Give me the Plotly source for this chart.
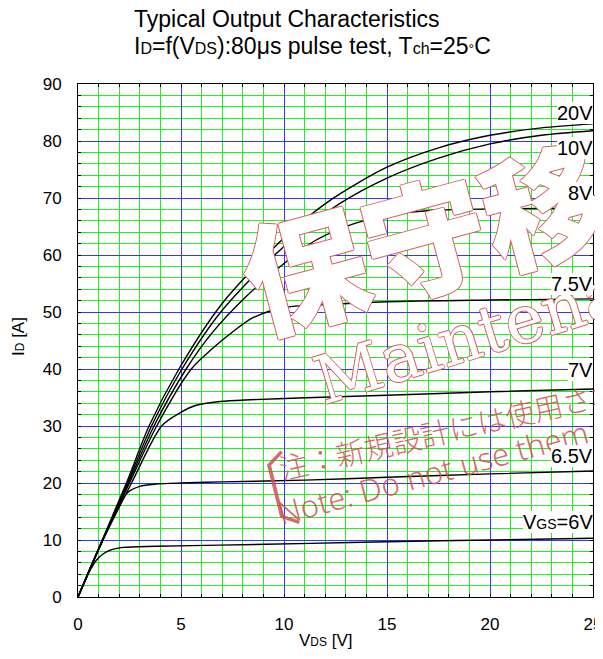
import plotly.graph_objects as go

# ---- data ----
vds_20 = [0, 1, 2.35, 3.45, 4.9, 7, 10, 12.2, 15, 17.5, 20, 22.5, 25]
id_20 = [0, 8.5, 20, 30, 40, 51.5, 63, 69.5, 75.4, 78.8, 81, 82.3, 83]

vds_10 = [0, 1, 2.4, 3.57, 5.05, 7, 10, 12.7, 15, 17.5, 20, 22.5, 25]
id_10 = [0, 8.4, 20, 30, 40, 50.3, 61.5, 69, 73.5, 77, 79.5, 81, 81.8]

vds_8 = [0, 1, 2.45, 3.69, 5.25, 6.5, 8.1, 10, 11.5, 13.4, 15, 17.2, 20, 25]
id_8 = [0, 8.4, 20, 30, 40, 46.3, 52.5, 58.5, 62.5, 65.5, 67, 67.8, 68.1, 68.2]

vds_75 = [0, 1, 2.5, 3.82, 5.5, 6.5, 7.5, 8.5, 10, 12, 15, 20, 25]
id_75 = [0, 8.4, 20, 30, 40, 43.5, 46.5, 49, 50.8, 51.3, 51.8, 52.1, 52.3]

vds_7 = [0, 1, 2.6, 4.06, 4.95, 5.7, 6.9, 8.35, 10.7, 15, 20, 25]
id_7 = [0, 8.4, 20, 30, 32.3, 33.6, 34.3, 34.6, 34.9, 35.4, 36, 36.5]

vds_65 = [0, 1, 1.5, 2, 2.4, 3, 3.8, 5, 7, 11, 15, 20, 25]
id_65 = [0, 8.3, 12.4, 16, 18.3, 19.4, 19.8, 20, 20.2, 20.5, 21, 21.6, 22.1]

vds_6 = [0, 0.5, 0.9, 1.2, 1.55, 2.2, 3.8, 6.9, 11.3, 15, 20, 25]
id_6 = [0, 4.1, 6.5, 7.5, 8.2, 8.7, 8.9, 9.1, 9.4, 9.7, 10, 10.3]

curves = [
    (vds_20, id_20), (vds_10, id_10), (vds_8, id_8), (vds_75, id_75),
    (vds_7, id_7), (vds_65, id_65), (vds_6, id_6),
]

curve_labels = ["20V", "10V", "8V", "7.5V", "7V", "6.5V",
                "V<span style='font-size:14px'>GS</span>=6V"]
label_y = [84.9, 78.7, 70.8, 55.0, 39.8, 24.7, 13.1]

x_ticks = [0, 5, 10, 15, 20, 25]
y_ticks = [0, 10, 20, 30, 40, 50, 60, 70, 80, 90]

FONT = "Liberation Sans, Arial, sans-serif"
BLUE = "#3535ff"
GREEN = "#22ee22"
RED = "#d06060"

fig = go.Figure()
for vx, iy in curves:
    fig.add_trace(go.Scatter(
        x=vx, y=iy, mode="lines",
        line=dict(color="black", width=1.4, shape="spline", smoothing=0.8),
        showlegend=False, hoverinfo="skip",
    ))

axis_common = dict(
    showline=True, linecolor="black", linewidth=1, mirror="allticks",
    ticks="inside", ticklen=3, tickcolor="black",
    showgrid=True, gridcolor=BLUE, gridwidth=1.3,
    zeroline=False, tickfont=dict(family=FONT, size=17, color="black"),
    ticklabelstandoff=12, automargin=False,
)

fig.update_xaxes(range=[0, 25], tickvals=x_ticks, ticktext=[str(v) for v in x_ticks],
                 minor=dict(dtick=1, showgrid=True, gridcolor=GREEN, gridwidth=1,
                            ticks="inside", ticklen=3, tickcolor="black"),
                 **axis_common)
fig.update_yaxes(range=[0, 90], tickvals=y_ticks, ticktext=[str(v) for v in y_ticks],
                 minor=dict(dtick=2, showgrid=True, gridcolor=GREEN, gridwidth=1,
                            ticks="inside", ticklen=3, tickcolor="black"),
                 **axis_common)

annotations = []

# watermark (drawn first, so labels sit on top)
outline = "1px 0 0 %s, -1px 0 0 %s, 0 1px 0 %s, 0 -1px 0 %s" % (RED, RED, RED, RED)
annotations.append(dict(
    x=6.8, y=39.8, xref="x", yref="y", text="保守移行品", showarrow=False,
    xanchor="left", yanchor="bottom", textangle=-15,
    font=dict(family="Noto Sans CJK JP", size=124, color="white", weight=900,
              shadow=outline),
))
annotations.append(dict(
    x=10.9, y=30.6, xref="x", yref="y", text="Maintenance", showarrow=False,
    xanchor="left", yanchor="bottom", textangle=-17,
    font=dict(family="DejaVu Serif", size=66, color="white", shadow=outline),
))
annotations.append(dict(
    x=9.4, y=18.7, xref="x", yref="y", text="注：新規設計には使用されないようお願いします",
    showarrow=False, xanchor="left", yanchor="bottom", textangle=-13,
    font=dict(family="Noto Sans CJK JP", size=29, color="rgba(205,80,80,0.85)", weight=300),
))
annotations.append(dict(
    x=9.35, y=10.7, xref="x", yref="y", text="Note: Do not use them for new design.",
    showarrow=False, xanchor="left", yanchor="bottom", textangle=-15,
    font=dict(family="Noto Sans", size=31, color="rgba(205,80,80,0.85)", weight=300),
))
annotations.append(dict(
    x=8.6, y=18.6, xref="x", yref="y", text="〔", showarrow=False,
    xanchor="center", yanchor="middle", textangle=-14,
    font=dict(family="Noto Sans CJK JP", size=80, color="rgba(205,80,80,0.85)", weight=300),
))

# curve labels
for txt, yy in zip(curve_labels, label_y):
    annotations.append(dict(
        x=25, y=yy, xref="x", yref="y", text=txt, showarrow=False,
        xanchor="right", yanchor="middle", bgcolor="white", borderpad=0,
        borderwidth=0, font=dict(family=FONT, size=20, color="black"),
    ))

# titles (positions given in screen pixels relative to the plot area)
def px_x(px):
    return (px - 78) / 515.0

def px_y(py):
    return (597 - py) / 513.0

annotations.append(dict(
    x=px_x(132), y=px_y(34), xref="paper", yref="paper",
    text="Typical Output Characteristics", showarrow=False,
    xanchor="left", yanchor="bottom", font=dict(family=FONT, size=23, color="black"),
))
annotations.append(dict(
    x=px_x(132), y=px_y(61), xref="paper", yref="paper",
    text="I<span style='font-size:16px'>D</span>=f(V<span style='font-size:16px'>DS</span>):80μs pulse test, T<span style='font-size:16px'>ch</span>=25<span style='font-size:14px'>°</span>C",
    showarrow=False, xanchor="left", yanchor="bottom",
    font=dict(family=FONT, size=23, color="black"),
))
# axis titles
annotations.append(dict(
    x=px_x(326), y=px_y(640), xref="paper", yref="paper",
    text="V<span style='font-size:12px'>DS</span> [V]", showarrow=False,
    xanchor="center", yanchor="middle", font=dict(family=FONT, size=17, color="black"),
))
annotations.append(dict(
    x=px_x(18), y=px_y(337), xref="paper", yref="paper",
    text="I<span style='font-size:12px'>D</span> [A]", showarrow=False, textangle=-90,
    xanchor="center", yanchor="middle", font=dict(family=FONT, size=17, color="black"),
))

fig.update_layout(
    width=603, height=659,
    margin=dict(l=70, r=18, t=76, b=70, autoexpand=False),
    paper_bgcolor="white", plot_bgcolor="white",
    showlegend=False,
    annotations=annotations,
    font=dict(family=FONT, color="black"),
)

fig.write_html("out.html")
